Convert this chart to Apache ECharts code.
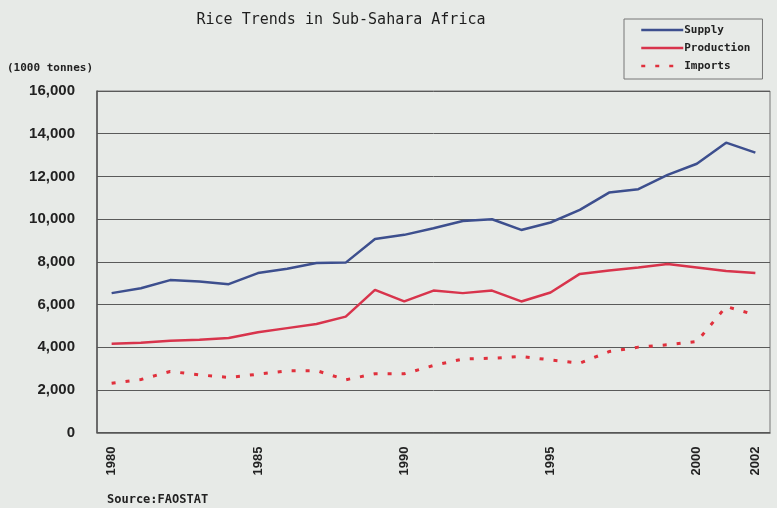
<!DOCTYPE html>
<html>
<head>
<meta charset="utf-8">
<script src="https://cdn.jsdelivr.net/npm/echarts@6/dist/echarts.min.js"></script>
<style>
  html, body { margin: 0; padding: 0; background: #e7eae7; }
  #main { width: 777px; height: 508px; }
</style>
</head>
<body>
<div id="main"></div>
<script type="text/javascript">
    // 年份（类别）
    var years = ['1980','1981','1982','1983','1984','1985','1986','1987','1988','1989','1990',
                 '1991','1992','1993','1994','1995','1996','1997','1998','1999','2000','2001','2002'];
    // 显示的年份标签
    var shownYears = ['1980','1985','1990','1995','2000','2002'];
    // 供给量
    var supply = [6530, 6760, 7140, 7070, 6950, 7470, 7670, 7940, 7960, 9070, 9260,
                  9570, 9910, 9990, 9490, 9840, 10430, 11240, 11400, 12070, 12590, 13580, 13110];
    // 产量
    var production = [4160, 4200, 4300, 4340, 4430, 4700, 4890, 5080, 5430, 6680, 6140,
                      6650, 6530, 6650, 6140, 6560, 7430, 7590, 7730, 7890, 7730, 7570, 7470];
    // 进口量
    var imports = [2310, 2480, 2860, 2700, 2580, 2730, 2890, 2900, 2470, 2750, 2750,
                   3140, 3440, 3480, 3560, 3400, 3250, 3790, 4000, 4110, 4260, 5900, 5510];

    var myChart = echarts.init(document.getElementById('main'));

    var option = {
        backgroundColor: '#e7eae7',
        animation: false,
        title: {
            text: 'Rice Trends in Sub-Sahara Africa',
            left: 336,
            textAlign: 'center',
            top: 8,
            textStyle: { fontFamily: 'DejaVu Sans Mono', fontSize: 15, fontWeight: 'normal', color: '#1e1e1e' }
        },
        legend: {
            orient: 'vertical',
            left: 624,
            top: 19,
            padding: [4, 12, 6, 16],
            itemWidth: 42,
            itemHeight: 14,
            itemGap: 4,
            borderColor: '#777',
            borderWidth: 1,
            itemStyle: { opacity: 0 },
            lineStyle: { width: 2.5 },
            textStyle: { fontFamily: 'DejaVu Sans Mono', fontSize: 11, fontWeight: 'bold', color: '#222', lineHeight: 14, padding: [0, 0, 0, -4] },
            data: ['Supply', 'Production', 'Imports']
        },
        graphic: [
            {
                type: 'text', left: 7, top: 63,
                style: { text: '(1000 tonnes)', font: 'bold 11px "DejaVu Sans Mono"', fill: '#222' }
            },
            {
                type: 'text', left: 107, top: 494,
                style: { text: 'Source:FAOSTAT', font: 'bold 12px "DejaVu Sans Mono"', fill: '#222' }
            }
        ],
        grid: {
            left: 97, right: 7, top: 91, bottom: 75.5,
            show: true, borderColor: '#777', borderWidth: 1, backgroundColor: 'transparent'
        },
        xAxis: {
            type: 'category',
            data: years,
            boundaryGap: true,
            axisLine: { lineStyle: { color: '#555', width: 1.5 } },
            axisTick: { inside: true, length: 4, lineStyle: { color: '#555' } },
            axisLabel: {
                rotate: 90,
                margin: 14,
                fontFamily: 'Liberation Sans',
                fontSize: 13,
                fontWeight: 'bold',
                color: '#222',
                interval: function (index, value) {
                    return shownYears.indexOf(value) >= 0;
                }
            }
        },
        yAxis: {
            type: 'value',
            min: 0, max: 16000, interval: 2000,
            axisLine: { show: true, lineStyle: { color: '#555', width: 1.5 } },
            axisTick: { show: false },
            splitLine: { lineStyle: { color: '#5a5a5a', width: 1 } },
            axisLabel: {
                margin: 22,
                fontFamily: 'Liberation Sans',
                fontSize: 15,
                fontWeight: 'bold',
                color: '#222',
                formatter: function (v) {
                    return v.toLocaleString('en-US');
                }
            }
        },
        series: [
            {
                name: 'Supply', type: 'line', data: supply, symbol: 'none',
                lineStyle: { color: '#3d4f8e', width: 2.5 }, itemStyle: { color: '#3d4f8e' }
            },
            {
                name: 'Production', type: 'line', data: production, symbol: 'none',
                lineStyle: { color: '#d8344c', width: 2.5 }, itemStyle: { color: '#d8344c' }
            },
            {
                name: 'Imports', type: 'line', data: imports, symbol: 'none',
                lineStyle: { color: '#e0303c', width: 3, type: [4, 10] }, itemStyle: { color: '#e0303c' }
            }
        ]
    };
    myChart.setOption(option);
</script>
</body>
</html>
